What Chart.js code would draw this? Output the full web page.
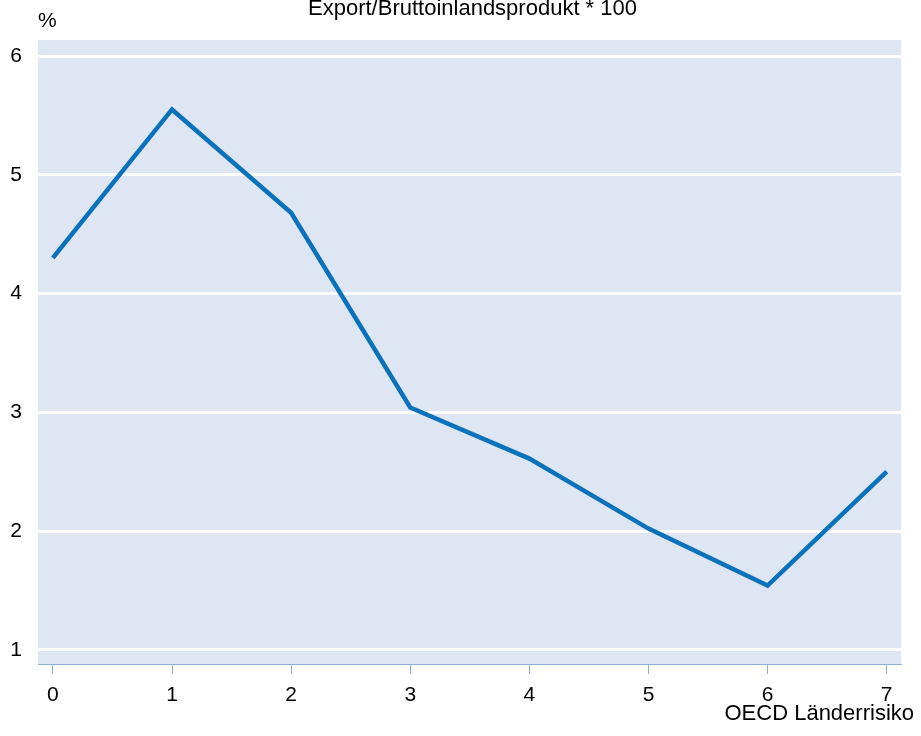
<!DOCTYPE html>
<html>
<head>
<meta charset="utf-8">
<script src="https://cdn.jsdelivr.net/npm/chart.js@4"></script>
<style>
    html, body { margin: 0; padding: 0; background: #fff; }
    #wrap { width: 921px; height: 736px; }
</style>
</head>
<body>
<div id="wrap"><canvas id="chart" width="921" height="736"></canvas></div>
<script>
// Export/BIP nach OECD Länderrisiko

const riskClasses = [0, 1, 2, 3, 4, 5, 6, 7];
const exportShare = [4.30, 5.55, 4.68, 3.04, 2.61, 2.02, 1.54, 2.50];
const yTicks = [1, 2, 3, 4, 5, 6];

const titleText = 'Export/Bruttoinlandsprodukt * 100';
const yUnit = '%';
const xTitle = 'OECD Länderrisiko';

const FONT = '"Liberation Sans", Arial, sans-serif';

// Hintergrund der Zeichenfläche und Beschriftungen
const decorPlugin = {
    id: 'decor',
    beforeDraw(chart) {
        const { ctx, chartArea } = chart;
        ctx.save();
        ctx.fillStyle = '#dfe6f3';
        ctx.fillRect(chartArea.left, chartArea.top, chartArea.right - chartArea.left, chartArea.bottom - chartArea.top);
        ctx.restore();
    },
    afterDraw(chart) {
        const { ctx, chartArea } = chart;
        ctx.save();
        ctx.fillStyle = '#000';
        ctx.textBaseline = 'alphabetic';

        ctx.font = '22px ' + FONT;
        ctx.textAlign = 'center';
        ctx.fillText(titleText, (chartArea.left + chartArea.right) / 2 + 3, 15);

        ctx.font = '21px ' + FONT;
        ctx.textAlign = 'left';
        ctx.fillText(yUnit, 38, 27);

        ctx.font = '22px ' + FONT;
        ctx.textAlign = 'right';
        ctx.fillText(xTitle, 914, 720);
        ctx.restore();
    }
};

const ctx = document.getElementById('chart').getContext('2d');

new Chart(ctx, {
    type: 'line',
    data: {
        datasets: [{
            data: riskClasses.map((x, i) => ({ x: x, y: exportShare[i] })),
            borderColor: '#0a72ba',
            borderWidth: 4.5,
            pointRadius: 0,
            tension: 0,
            fill: false
        }]
    },
    options: {
        responsive: false,
        animation: false,
        layout: { padding: { top: 40, right: 20, left: 0, bottom: 0 } },
        plugins: {
            legend: { display: false },
            tooltip: { enabled: false }
        },
        scales: {
            x: {
                type: 'linear',
                min: -0.125,
                max: 7.12,
                afterBuildTicks: scale => { scale.ticks = riskClasses.map(v => ({ value: v })); },
                afterFit: scale => { scale.height = 72; },
                grid: {
                    drawOnChartArea: false,
                    drawTicks: true,
                    tickLength: 10,
                    color: '#8ab0d6',
                    lineWidth: 1
                },
                border: { display: true, color: '#8ab0d6', width: 1 },
                ticks: {
                    color: '#000',
                    font: { family: FONT, size: 21 },
                    padding: 9,
                    maxRotation: 0,
                    callback: v => String(v)
                }
            },
            y: {
                min: 0.88,
                max: 6.135,
                afterBuildTicks: scale => { scale.ticks = yTicks.map(v => ({ value: v })); },
                afterFit: scale => { scale.width = 38; },
                grid: {
                    color: '#ffffff',
                    lineWidth: 3,
                    drawTicks: false
                },
                border: { display: false },
                ticks: {
                    color: '#000',
                    font: { family: FONT, size: 21 },
                    padding: 16,
                    callback: v => String(v)
                }
            }
        }
    },
    plugins: [decorPlugin]
});
</script>
</body>
</html>
